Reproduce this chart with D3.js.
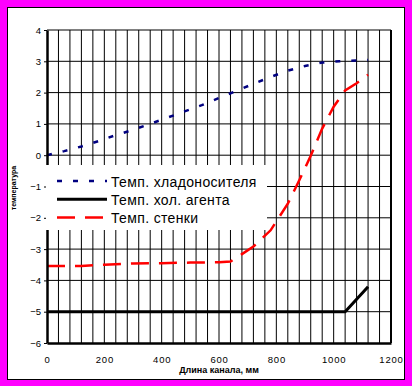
<!DOCTYPE html>
<html>
<head>
<meta charset="utf-8">
<script src="https://cdn.jsdelivr.net/npm/d3@7"></script>
<style>
  body { margin: 0; background: #ff00ff; }
  svg { display: block; font-family: Arial, "Liberation Sans", sans-serif; }
</style>
</head>
<body>
<svg id="chart"></svg>
<script>
// values
const seriesNames = ["Темп. хладоносителя", "Темп. хол. агента", "Темп. стенки"];

const coolantX = [0, 60, 120, 180, 240, 300, 360, 420, 480, 540, 600, 660, 720, 780, 840, 900, 960, 1020, 1080, 1120];
const coolantY = [0, 0.13, 0.28, 0.45, 0.64, 0.81, 1.0, 1.2, 1.4, 1.6, 1.83, 2.05, 2.28, 2.5, 2.7, 2.85, 2.96, 3.0, 3.03, 3.04];

const agentX = [0, 1040, 1120];
const agentY = [-5, -5, -4.2];

const wallX = [0, 120, 200, 300, 400, 500, 600, 640, 680, 720, 780, 840, 880, 920, 960, 1000, 1040, 1080, 1120];
const wallY = [-3.54, -3.54, -3.5, -3.46, -3.45, -3.43, -3.42, -3.4, -3.16, -2.92, -2.4, -1.55, -0.8, -0.02, 0.85, 1.55, 2.07, 2.3, 2.57];

const xTickLabels = [0, 200, 400, 600, 800, 1000, 1200];
const yTickLabels = [-6, -5, -4, -3, -2, -1, 0, 1, 2, 3, 4];

const xTitle = "Длина канала, мм";
const yTitle = "температура";

class LineChart {
    margin = { top: 30, right: 21, bottom: 43, left: 47 }

    constructor(svg, width = 412, height = 386) {
        this.svg = d3.select(svg);
        this.width = width;
        this.height = height;
    }

    initialize() {
        this.svg.attr("width", this.width).attr("height", this.height);

        this.svg.append("rect")
            .attr("width", this.width).attr("height", this.height)
            .attr("fill", "#ff00ff");
        this.svg.append("rect")
            .attr("x", 7.5).attr("y", 7.5)
            .attr("width", 397).attr("height", 372)
            .attr("fill", "#fff").attr("stroke", "#000");

        this.xScale = d3.scaleLinear().domain([0, 1200])
            .range([this.margin.left, this.width - this.margin.right]);
        this.yScale = d3.scaleLinear().domain([-6, 4])
            .range([this.height - this.margin.bottom, this.margin.top]);

        this.grid = this.svg.append("g");
        this.container = this.svg.append("g");
        this.axes = this.svg.append("g");
        this.legend = this.svg.append("g");
    }

    update() {
        const x = this.xScale, y = this.yScale;

        // grid
        this.grid.selectAll(".vgrid")
            .data(d3.range(40, 1200, 40))
            .join("line")
            .attr("class", "vgrid")
            .attr("x1", d => x(d)).attr("x2", d => x(d))
            .attr("y1", y(4)).attr("y2", y(-6))
            .attr("stroke", "#000").attr("stroke-width", 1);
        this.grid.selectAll(".hgrid")
            .data(yTickLabels.filter(d => d > -6))
            .join("line")
            .attr("class", "hgrid")
            .attr("x1", x(0)).attr("x2", x(1200))
            .attr("y1", d => y(d)).attr("y2", d => y(d))
            .attr("stroke", "#000").attr("stroke-width", 1);

        // right border
        this.grid.append("line")
            .attr("x1", x(1200)).attr("x2", x(1200))
            .attr("y1", y(4)).attr("y2", y(-6))
            .attr("stroke", "#000").attr("stroke-width", 2);

        // axes
        const yAxis = this.axes.append("g")
            .attr("transform", `translate(${x(0)},0)`)
            .call(d3.axisLeft(y).tickValues(yTickLabels).tickFormat(d3.format("d"))
                .tickSize(3).tickSizeOuter(0).tickPadding(3));
        yAxis.select(".domain").attr("stroke-width", 2.5);
        yAxis.selectAll("text").attr("font-size", "9.5px").attr("fill", "#000");

        const xAxis = this.axes.append("g")
            .attr("transform", `translate(0,${y(-6)})`)
            .call(d3.axisBottom(x).tickValues(xTickLabels).tickFormat(d3.format("d"))
                .tickSize(0).tickSizeOuter(0).tickPadding(13));
        xAxis.select(".domain").attr("stroke-width", 2.5);
        xAxis.selectAll("text").attr("font-size", "9.5px").attr("letter-spacing", "0.8px").attr("fill", "#000");

        this.axes.append("text")
            .attr("x", 219).attr("y", 373)
            .attr("text-anchor", "middle")
            .attr("font-size", "9px").attr("font-weight", "bold")
            .text(xTitle);
        this.axes.append("text")
            .attr("transform", "translate(16,188) rotate(-90)")
            .attr("text-anchor", "middle")
            .attr("font-size", "7px").attr("font-weight", "bold")
            .text(yTitle);

        // series
        const line = d3.line().x(d => x(d[0])).y(d => y(d[1]));
        const series = [
            { pts: d3.zip(coolantX, coolantY), color: "#000080", width: 2.5, dash: "5,11" },
            { pts: d3.zip(agentX, agentY), color: "#000", width: 3, dash: null },
            { pts: d3.zip(wallX, wallY), color: "#ff0000", width: 2.5, dash: "18,10" }
        ];
        this.container.selectAll("path")
            .data(series)
            .join("path")
            .attr("d", d => line(d.pts))
            .attr("fill", "none")
            .attr("stroke", d => d.color)
            .attr("stroke-width", d => d.width)
            .attr("stroke-dasharray", d => d.dash);

        // legend
        this.legend.append("rect")
            .attr("x", 46).attr("y", 165)
            .attr("width", 221).attr("height", 65)
            .attr("fill", "#fff");
        const rows = this.legend.selectAll(".row")
            .data(series)
            .join("g")
            .attr("class", "row")
            .attr("transform", (d, i) => `translate(0,${181 + i * 18.3})`);
        rows.append("line")
            .attr("x1", 57).attr("x2", 107)
            .attr("stroke", d => d.color)
            .attr("stroke-width", d => d.width)
            .attr("stroke-dasharray", d => d.dash);
        rows.append("text")
            .attr("x", 111).attr("y", 5.5)
            .attr("font-size", "14px")
            .attr("letter-spacing", "0.35px")
            .text((d, i) => seriesNames[i]);
    }
}

const chart = new LineChart("#chart");
chart.initialize();
chart.update();
</script>
</body>
</html>
